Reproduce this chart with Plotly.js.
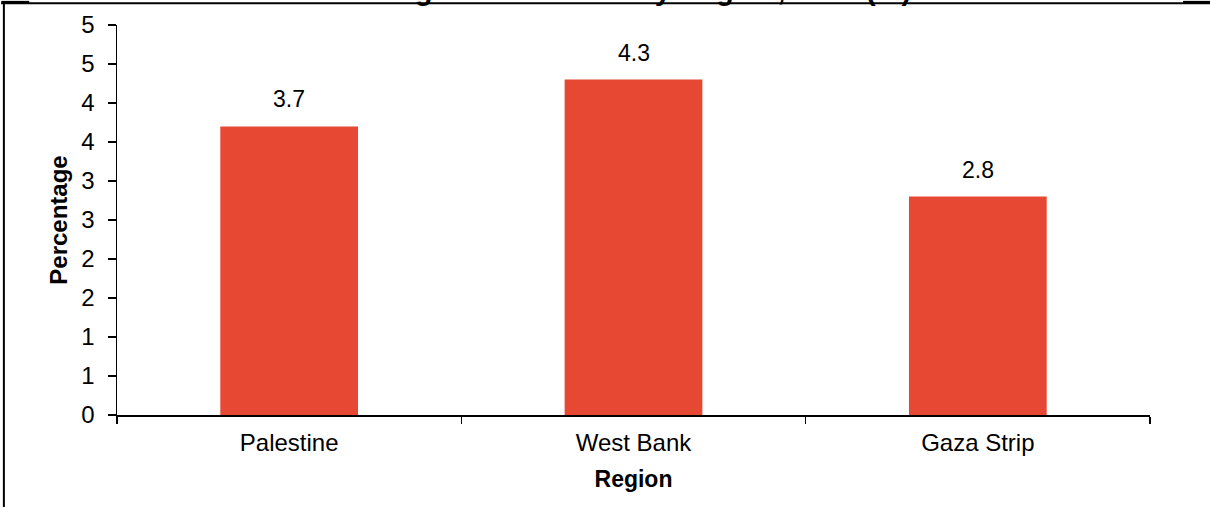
<!DOCTYPE html>
<html>
<head>
<meta charset="utf-8">
<script src="https://cdn.plot.ly/plotly-3.0.1.min.js"></script>
<style>
  html, body { margin: 0; padding: 0; background: #ffffff; }
  #chart { width: 1210px; height: 507px; }
</style>
</head>
<body>
<div id="chart"></div>
<script>
// ---- data ----
const regions = ["Palestine", "West Bank", "Gaza Strip"];
const values = [3.7, 4.3, 2.8];
const yTickVals = [0, 0.5, 1, 1.5, 2, 2.5, 3, 3.5, 4, 4.5, 5];
const yTickText = ["0", "1", "1", "2", "2", "3", "3", "4", "4", "5", "5"];
const chartTitle = "Average Growth Rate by Region, 2017 (%)";

const FONT = "Arial, 'Liberation Sans', sans-serif";
const barColor = "#E64833";

const trace = {
  type: "bar",
  x: regions,
  y: values,
  marker: { color: barColor, line: { width: 0 } },
  hoverinfo: "x+y"
};

const annotations = regions.map((r, i) => ({
  x: r,
  y: values[i],
  xref: "x",
  yref: "y",
  text: values[i].toFixed(1),
  showarrow: false,
  yanchor: "bottom",
  yshift: 12,
  font: { family: FONT, size: 23, color: "#000000" }
}));

// frame lines around the figure (partially cropped in the reference)
const lineStyle = { color: "#000000", width: 2 };
const shapes = [
  { type: "line", xref: "paper", yref: "paper", x0: -0.112, x1: 1.06, y0: 1.0555, y1: 1.0555, line: lineStyle },
  { type: "line", xref: "paper", yref: "paper", x0: -0.1095, x1: -0.1095, y0: 1.0555, y1: -0.25, line: lineStyle },
  { type: "line", xref: "paper", yref: "paper", x0: -0.112, x1: -0.085, y0: 1.058, y1: 1.058, line: { color: "#000000", width: 3 } },
  { type: "line", xref: "paper", yref: "paper", x0: 1.032, x1: 1.06, y0: 1.058, y1: 1.058, line: { color: "#000000", width: 3 } }
];

const layout = {
  width: 1210,
  height: 507,
  paper_bgcolor: "#ffffff",
  plot_bgcolor: "#ffffff",
  margin: { l: 117, r: 60, t: 25, b: 92, pad: 0 },
  font: { family: FONT, size: 22, color: "#000000" },
  showlegend: false,
  bargap: 0.6,
  title: {
    text: "<b>" + chartTitle + "</b>",
    xref: "container",
    yref: "container",
    x: 0.515,
    xanchor: "center",
    y: 1,
    yanchor: "bottom",
    font: { family: FONT, size: 29, color: "#000000" }
  },
  xaxis: {
    type: "category",
    showline: true,
    linecolor: "#000000",
    linewidth: 1.5,
    ticks: "outside",
    tickson: "boundaries",
    ticklen: 7,
    tickwidth: 1.5,
    tickcolor: "#000000",
    showgrid: false,
    zeroline: false,
    ticklabelstandoff: 6,
    tickfont: { family: FONT, size: 24, color: "#000000" },
    title: {
      text: "<b>Region</b>",
      font: { family: FONT, size: 23, color: "#000000" },
      standoff: 15
    }
  },
  yaxis: {
    range: [0, 5],
    tickmode: "array",
    tickvals: yTickVals,
    ticktext: yTickText,
    showline: true,
    linecolor: "#000000",
    linewidth: 1.5,
    ticks: "outside",
    ticklen: 8,
    tickwidth: 1.5,
    tickcolor: "#000000",
    showgrid: false,
    zeroline: false,
    ticklabelstandoff: 8,
    tickfont: { family: FONT, size: 24, color: "#000000" },
    title: {
      text: "<b>Percentage</b>",
      font: { family: FONT, size: 24, color: "#000000" },
      standoff: 7
    }
  },
  annotations: annotations,
  shapes: shapes
};

Plotly.newPlot("chart", [trace], layout, { displayModeBar: false, staticPlot: true });
</script>
</body>
</html>
